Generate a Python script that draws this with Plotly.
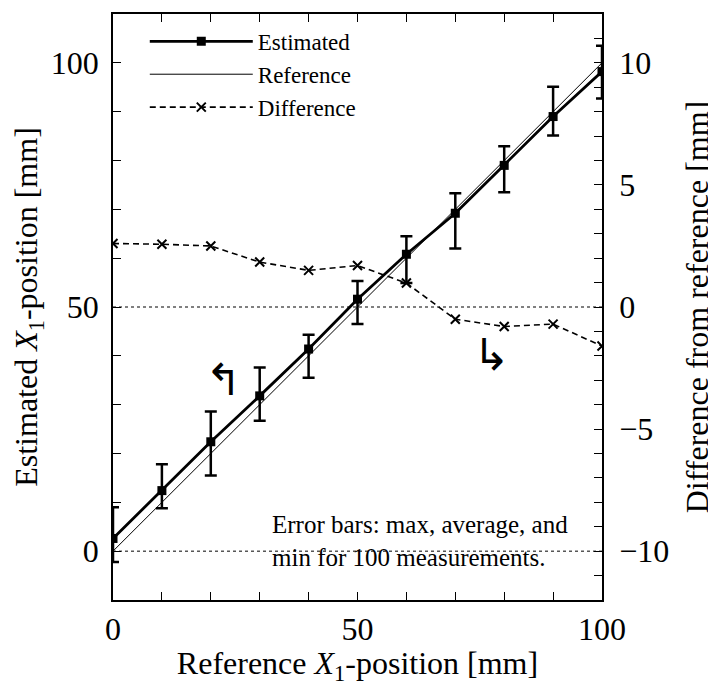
import plotly.graph_objects as go

# Data
ref_x = [0, 10, 20, 30, 40, 50, 60, 70, 80, 90, 100]
est_avg = [2.6, 12.4, 22.4, 31.8, 41.4, 51.6, 60.8, 69.2, 79.0, 89.0, 98.2]
est_max = [9.0, 17.8, 28.6, 37.6, 44.3, 55.3, 64.5, 73.3, 82.9, 95.1, 103.5]
est_min = [-2.2, 8.8, 15.5, 26.7, 35.5, 46.5, 54.9, 62.0, 73.5, 85.1, 92.7]
diff = [2.6, 2.57, 2.5, 1.84, 1.5, 1.7, 0.98, -0.5, -0.8, -0.7, -1.6]
ref_line_x = [0, 100]
ref_line_y = [0, 100]

FONT = "Liberation Serif"
TS = 32
ARROW_FONT = "Noto Sans CJK JP, DejaVu Sans"

err_plus = [a - b for a, b in zip(est_max, est_avg)]
err_minus = [b - c for b, c in zip(est_avg, est_min)]

fig = go.Figure()

fig.add_trace(go.Scatter(
    x=ref_x, y=est_avg, name="Estimated", mode="lines+markers",
    line=dict(color="black", width=2.8),
    marker=dict(symbol="square", size=9, color="black"),
    error_y=dict(type="data", array=err_plus, arrayminus=err_minus,
                 color="black", thickness=2.5, width=6),
    legendrank=1,
))
fig.add_trace(go.Scatter(
    x=ref_line_x, y=ref_line_y, name="Reference", mode="lines",
    line=dict(color="black", width=1), legendrank=2,
))
fig.add_trace(go.Scatter(
    x=ref_x, y=diff, name="Difference", mode="lines+markers", yaxis="y2",
    line=dict(color="black", width=1.6, dash="6px,4px"),
    marker=dict(symbol="x-thin", size=9, line=dict(color="black", width=2)),
    legendrank=3,
))

# dotted horizontal lines at 0 and 50 (left axis)
for yv in [0, 50]:
    fig.add_shape(type="line", xref="x", yref="y", x0=0, x1=100, y0=yv, y1=yv,
                  line=dict(color="black", width=1, dash="dot"), layer="below")

fig.add_annotation(x=22.5, y=35.9, xref="x", yref="y", text="↰", showarrow=False,
                   font=dict(family=ARROW_FONT, size=44, color="black", weight=300))
fig.add_annotation(x=77.5, y=41.0, xref="x", yref="y", text="↳", showarrow=False,
                   font=dict(family=ARROW_FONT, size=44, color="black", weight=300))
fig.add_annotation(x=0.321, y=0.1, xref="paper", yref="paper", xanchor="left", yanchor="middle",
                   text="Error bars: max, average, and<br>min for 100 measurements.",
                   align="left", showarrow=False,
                   font=dict(family=FONT, size=25, color="black"))

axis_common = dict(showline=True, linecolor="black", linewidth=1.5, ticks="inside",
                   ticklen=8, tickcolor="black", tickwidth=1, showgrid=False, zeroline=False,
                   automargin=False,
                   tickfont=dict(family=FONT, size=TS, color="black"))

fig.update_layout(
    width=708, height=678,
    margin=dict(l=105, r=114, t=6, b=86),
    paper_bgcolor="white", plot_bgcolor="white",
    font=dict(family=FONT, color="black"),
    xaxis=dict(range=[0, 100], tickvals=[0, 50, 100], mirror="ticks",
               minor=dict(dtick=10, ticks="inside", ticklen=8, tickcolor="black"),
               title=dict(text="Reference <i>X</i><sub>1</sub>-position [mm]",
                          font=dict(family=FONT, size=TS), standoff=4),
               ticklabelstandoff=0, **axis_common),
    yaxis=dict(range=[-10, 110], tickvals=[0, 50, 100],
               minor=dict(dtick=10, ticks="inside", ticklen=8, tickcolor="black"),
               title=dict(text="Estimated <i>X</i><sub>1</sub>-position [mm]",
                          font=dict(family=FONT, size=TS), standoff=5),
               ticklabelstandoff=6, **axis_common),
    yaxis2=dict(range=[-12, 12], tickvals=[-10, -5, 0, 5, 10], overlaying="y", side="right",
                minor=dict(dtick=1, ticks="inside", ticklen=8, tickcolor="black"),
                title=dict(text="Difference from reference [mm]",
                           font=dict(family=FONT, size=TS), standoff=17),
                ticklabelstandoff=9, **axis_common),
    legend=dict(x=0.065, y=0.99, xanchor="left", yanchor="top", bgcolor="rgba(0,0,0,0)",
                font=dict(family=FONT, size=23), tracegroupgap=0, itemwidth=103),
    showlegend=True,
)

fig.write_html("out.html")
